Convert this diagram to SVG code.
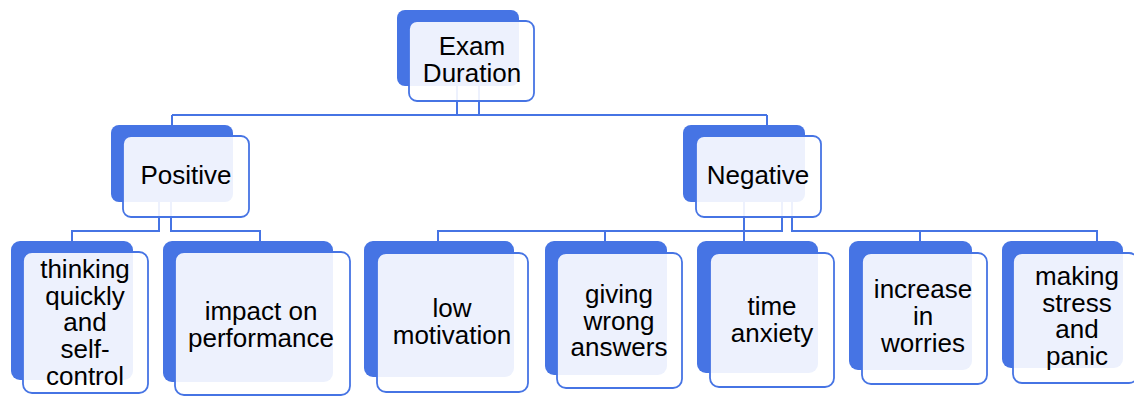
<svg xmlns="http://www.w3.org/2000/svg" width="1134" height="396" viewBox="0 0 1134 396">
  <style>
    .back { fill: #4674E4; }
    .front { fill: #ffffff; fill-opacity: 0.9; stroke: #4674E4; stroke-width: 1.8; }
    .link { fill: none; stroke: #4674E4; stroke-width: 2; }
    text { font-family: "Liberation Sans", Arial, sans-serif; font-size: 26px; fill: #000; text-anchor: middle; }
  </style>
  <rect width="1134" height="396" fill="#ffffff"/>

  <!-- connectors (drawn first so the translucent card faces show them faintly) -->
  <g id="connectors">
    <path class="link" d="M457 86 V115 M479 86 V115 M172 115 H767 M172 115 V126 M767 115 V126"/>
    <path class="link" d="M159 202 V231 H72 V241 M171 202 V231 H260 V241"/>
    <path class="link" d="M744 202 V241 M782 202 V231 H438 V241 M605 231 V241 M792 202 V231 H1097 V241 M920 231 V241"/>
  </g>

  <g id="exam-duration">
    <rect class="back" x="397" y="10" width="122" height="76" rx="8"/>
    <rect class="front" x="409" y="21" width="125" height="80" rx="8"/>
    <text x="472" y="55">Exam</text>
    <text x="472" y="82">Duration</text>
  </g>

  <g id="positive">
    <rect class="back" x="111" y="125" width="122" height="77" rx="8"/>
    <rect class="front" x="123" y="136" width="126" height="81" rx="8"/>
    <text x="186" y="184">Positive</text>
  </g>

  <g id="negative">
    <rect class="back" x="683" y="125" width="122" height="77" rx="8"/>
    <rect class="front" x="696" y="136" width="125" height="81" rx="8"/>
    <text x="758" y="184">Negative</text>
  </g>

  <g id="thinking-quickly">
    <rect class="back" x="11" y="241" width="122" height="139" rx="9"/>
    <rect class="front" x="23" y="252" width="125" height="141" rx="9"/>
    <text x="85" y="278">thinking</text>
    <text x="85" y="305">quickly</text>
    <text x="85" y="331">and</text>
    <text x="85" y="358">self-</text>
    <text x="85" y="385">control</text>
  </g>

  <g id="impact-on-performance">
    <rect class="back" x="163" y="241" width="170" height="141" rx="9"/>
    <rect class="front" x="175" y="252" width="175" height="143" rx="9"/>
    <text x="261" y="320">impact on</text>
    <text x="261" y="347">performance</text>
  </g>

  <g id="low-motivation">
    <rect class="back" x="364" y="241" width="150" height="136" rx="9"/>
    <rect class="front" x="377" y="253" width="151" height="139" rx="9"/>
    <text x="452" y="317">low</text>
    <text x="452" y="344">motivation</text>
  </g>

  <g id="giving-wrong-answers">
    <rect class="back" x="545" y="241" width="122" height="134" rx="9"/>
    <rect class="front" x="557" y="253" width="125" height="135" rx="9"/>
    <text x="619" y="303">giving</text>
    <text x="619" y="330">wrong</text>
    <text x="619" y="356">answers</text>
  </g>

  <g id="time-anxiety">
    <rect class="back" x="697" y="241" width="121" height="132" rx="9"/>
    <rect class="front" x="710" y="253" width="124" height="134" rx="9"/>
    <text x="772" y="315">time</text>
    <text x="772" y="342">anxiety</text>
  </g>

  <g id="increase-in-worries">
    <rect class="back" x="849" y="241" width="123" height="129" rx="9"/>
    <rect class="front" x="862" y="253" width="125" height="131" rx="9"/>
    <text x="923" y="298">increase</text>
    <text x="923" y="325">in</text>
    <text x="923" y="352">worries</text>
  </g>

  <g id="making-stress-and-panic">
    <rect class="back" x="1002" y="241" width="121" height="127" rx="9"/>
    <rect class="front" x="1013" y="253" width="125" height="130" rx="9"/>
    <text x="1077" y="285">making</text>
    <text x="1077" y="312">stress</text>
    <text x="1077" y="338">and</text>
    <text x="1077" y="365">panic</text>
  </g>
</svg>
